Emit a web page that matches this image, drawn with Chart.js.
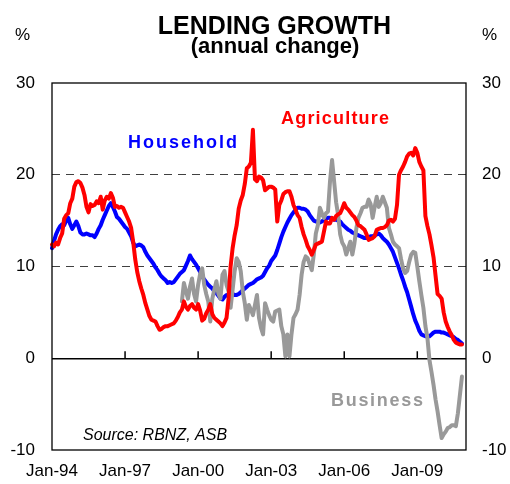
<!DOCTYPE html>
<html lang="en">
<head>
<meta charset="utf-8">
<title>Lending growth</title>
<style>
  body { margin: 0; background: #fff; }
  canvas { display: block; }
</style>
</head>
<body>
<canvas id="myChart" width="510" height="484"></canvas>
<script src="https://cdn.jsdelivr.net/npm/chart.js@4.4.0/dist/chart.umd.min.js"></script>
<script>
// monthly categories Jan-94 .. Jan-11
const monthNames = ['Jan','Feb','Mar','Apr','May','Jun','Jul','Aug','Sep','Oct','Nov','Dec'];
const labels = [];
for (let yr = 1994; yr <= 2011; yr++) {
  for (let m = 0; m < 12 && labels.length < 205; m++) {
    labels.push(monthNames[m] + '-' + String(yr).slice(2));
  }
}
const tickLabels = ['Jan-94', 'Jan-97', 'Jan-00', 'Jan-03', 'Jan-06', 'Jan-09'];
const yTicks = [-10, 0, 10, 20, 30];

// annual % change, one row per year (Jan..Dec)
const household = [
  12.0,12.8,13.5,14.0,14.4,14.6,14.5,15.0,15.3,14.6,14.1,14.5,
  14.9,14.4,13.7,13.5,13.5,13.6,13.5,13.4,13.4,13.2,13.6,14.1,
  14.5,15.1,15.6,16.1,16.6,16.9,16.5,16.0,15.4,15.2,14.9,14.6,
  14.3,14.1,13.7,13.3,12.6,12.2,12.3,12.4,12.3,12.1,11.6,11.2,
  10.9,10.6,10.3,9.9,9.6,9.2,8.9,8.7,8.5,8.2,8.3,8.2,
  8.3,8.6,8.9,9.2,9.4,9.6,10.1,10.6,11.2,10.8,10.5,10.2,
  9.8,9.4,8.9,8.6,8.3,8.0,7.8,7.6,7.3,7.1,6.8,6.5,
  6.4,6.7,6.9,6.8,6.9,7.0,6.9,6.9,7.0,7.2,7.4,7.6,
  7.8,8.0,8.1,8.2,8.4,8.6,8.7,8.8,9.0,9.4,9.8,10.1,
  10.6,10.9,11.2,11.8,12.5,13.2,13.8,14.3,14.8,15.2,15.6,15.9,
  16.2,16.4,16.4,16.3,16.3,16.2,16.0,15.6,15.3,15.0,14.9,14.9,
  14.8,14.9,15.1,15.2,15.3,15.3,15.2,15.1,15.1,15.0,14.9,14.6,
  14.4,14.2,14.0,13.9,13.7,13.6,13.5,13.4,13.3,13.2,13.1,13.1,
  13.2,13.3,13.3,13.4,13.5,13.6,13.4,13.1,12.9,12.7,12.4,12.0,
  11.6,11.0,10.4,9.8,9.1,8.5,7.8,7.2,6.4,5.6,4.8,4.1,
  3.6,3.0,2.6,2.5,2.4,2.4,2.4,2.6,2.8,2.9,2.9,2.9,
  2.8,2.8,2.7,2.6,2.5,2.4,2.3,2.1,2.0,1.8,1.6
];

const agriculture = [
  12.4,12.2,12.6,12.4,13.1,13.6,15.2,15.6,15.8,16.9,17.4,18.7,
  19.2,19.3,19.1,18.6,17.8,16.5,15.9,16.8,16.6,16.7,17.1,16.9,
  17.6,16.2,17.2,17.6,17.4,18.0,17.5,16.5,16.6,16.4,16.5,16.4,
  15.9,15.4,14.9,14.2,12.7,10.8,9.4,8.4,7.6,6.9,6.0,5.3,
  4.6,4.2,4.1,4.0,3.5,3.1,3.2,3.4,3.5,3.5,3.6,3.7,
  3.8,4.1,4.5,5.0,5.3,6.2,5.6,5.3,5.7,5.9,5.5,5.3,
  5.9,5.2,4.1,4.3,4.9,5.3,5.9,4.8,4.4,4.2,4.0,3.8,
  3.5,3.9,4.4,6.5,10.0,12.0,13.4,14.5,16.3,17.2,17.8,19.0,
  20.7,20.9,21.3,24.9,19.5,19.3,19.8,19.7,19.4,18.3,18.5,18.7,
  18.7,18.6,18.4,14.9,16.7,17.2,17.9,18.1,18.2,18.2,17.6,16.7,
  16.2,15.6,15.3,14.3,13.5,12.9,12.2,11.8,11.3,11.8,12.4,12.5,
  12.6,12.7,13.8,14.9,14.7,14.7,15.3,15.1,15.5,15.7,15.8,16.3,
  16.9,16.4,16.2,15.9,15.6,15.4,15.0,14.5,14.4,14.2,14.0,13.5,
  12.9,13.0,13.1,13.3,14.0,14.1,14.2,14.2,14.3,14.5,15.0,15.1,
  14.9,15.2,16.7,20.0,20.5,20.9,21.4,22.0,22.3,22.4,22.1,22.9,
  22.4,21.4,20.9,20.5,15.5,14.4,13.5,12.3,11.0,9.0,7.0,6.8,
  6.5,5.0,4.0,3.4,2.9,2.5,2.0,1.7,1.6,1.5,1.5
];

const business = [
  null,null,null,null,null,null,null,null,null,null,null,null,
  null,null,null,null,null,null,null,null,null,null,null,null,
  null,null,null,null,null,null,null,null,null,null,null,null,
  null,null,null,null,null,null,null,null,null,null,null,null,
  null,null,null,null,null,null,null,null,null,null,null,null,
  null,null,null,null,6.2,8.2,7.3,6.5,7.8,8.7,7.0,6.2,
  8.0,9.2,9.8,8.0,7.0,6.2,4.0,6.5,7.5,8.4,7.0,6.5,
  9.1,9.5,8.0,7.3,5.5,7.5,9.5,10.9,10.5,9.5,7.3,6.0,
  4.2,5.8,5.3,4.7,5.8,6.9,4.4,3.3,2.6,6.0,5.3,4.7,
  4.2,4.0,5.1,5.2,5.3,3.5,2.6,0.2,2.6,0.2,2.6,4.4,
  4.8,5.3,6.9,9.1,10.5,11.1,10.9,10.2,9.6,11.3,13.6,14.5,
  16.4,15.8,15.3,15.8,16.0,19.3,21.6,19.3,17.0,15.6,13.5,12.6,
  12.2,11.3,12.0,12.7,11.3,12.5,14.2,15.3,15.8,16.4,16.5,16.5,
  17.3,16.8,15.3,16.5,17.6,16.5,16.9,17.6,17.0,16.4,14.2,13.5,
  12.7,12.4,12.2,12.0,10.8,9.8,9.3,9.5,10.5,11.3,11.6,11.5,
  10.0,8.4,6.9,5.5,3.5,2.2,-0.2,-1.5,-2.9,-4.5,-5.8,-7.3,
  -8.7,-8.3,-8.0,-7.6,-7.5,-7.3,-7.3,-7.4,-6.0,-4.0,-2.0
];

const FONT = "'Liberation Sans', Arial, sans-serif";

// frame, x tick marks on the zero line, and all the text around the plot
const decorations = {
  id: 'decorations',
  afterDraw(chart) {
    const { ctx, chartArea: a, scales } = chart;
    ctx.save();
    ctx.strokeStyle = '#000';
    ctx.lineWidth = 1.3;
    ctx.strokeRect(a.left, a.top, a.right - a.left, a.bottom - a.top);

    const y0 = scales.y.getPixelForValue(0);
    ctx.lineWidth = 1.5;
    tickLabels.slice(1).forEach(l => {
      const x = scales.x.getPixelForValue(labels.indexOf(l));
      ctx.beginPath();
      ctx.moveTo(x, y0);
      ctx.lineTo(x, y0 - 7);
      ctx.stroke();
    });

    ctx.fillStyle = '#000';
    ctx.textAlign = 'center';
    ctx.textBaseline = 'alphabetic';
    ctx.font = 'bold 25px ' + FONT;
    ctx.fillText('LENDING GROWTH', 274.5, 34);
    ctx.font = 'bold 22px ' + FONT;
    ctx.fillText('(annual change)', 275, 53);

    ctx.textAlign = 'left';
    ctx.font = '17px ' + FONT;
    ctx.fillText('%', 15, 40);
    ctx.fillText('%', 482, 40);

    ctx.font = 'italic 16px ' + FONT;
    ctx.fillText('Source: RBNZ, ASB', 83, 440);

    ctx.font = 'bold 18px ' + FONT;
    ctx.letterSpacing = '2px';
    ctx.fillStyle = '#0000ff';
    ctx.fillText('Household', 128, 148);
    ctx.letterSpacing = '1.2px';
    ctx.fillStyle = '#ff0000';
    ctx.fillText('Agriculture', 281, 124);
    ctx.letterSpacing = '1.7px';
    ctx.fillStyle = '#999999';
    ctx.fillText('Business', 331, 406);
    ctx.restore();
  }
};

const tickFont = { family: FONT, size: 17 };

new Chart(document.getElementById('myChart'), {
  type: 'line',
  data: {
    labels: labels,
    datasets: [
      { label: 'Household', data: household, borderColor: '#0000ff', order: 3 },
      { label: 'Agriculture', data: agriculture, borderColor: '#ff0000', order: 1 },
      { label: 'Business', data: business, borderColor: '#999999', order: 2 }
    ]
  },
  options: {
    responsive: false,
    animation: false,
    layout: { padding: { top: 83 } },
    plugins: {
      legend: { display: false },
      tooltip: { enabled: false },
      title: { display: false }
    },
    elements: {
      point: { radius: 0 },
      line: { borderWidth: 4, tension: 0, borderJoinStyle: 'round', borderCapStyle: 'round', fill: false }
    },
    scales: {
      x: {
        type: 'category',
        offset: false,
        afterFit: s => { s.height = 34; },
        grid: { display: false, drawTicks: false },
        border: { display: false },
        ticks: {
          autoSkip: false,
          maxRotation: 0,
          padding: 11,
          color: '#000',
          font: tickFont,
          callback: (v, i) => tickLabels.includes(labels[i]) ? labels[i] : ''
        }
      },
      y: {
        position: 'left',
        min: -10,
        max: 30,
        afterFit: s => { s.width = 52; },
        afterBuildTicks: s => { s.ticks = yTicks.map(v => ({ value: v })); },
        ticks: { padding: 17, color: '#000', font: tickFont },
        grid: {
          drawTicks: false,
          color: c => (c.tick.value === 10 || c.tick.value === 20) ? '#404040' : 'transparent',
          lineWidth: 1
        },
        border: { display: false, dash: [8, 6] }
      },
      y2: {
        position: 'right',
        min: -10,
        max: 30,
        afterFit: s => { s.width = 44; },
        afterBuildTicks: s => { s.ticks = yTicks.map(v => ({ value: v })); },
        ticks: { padding: 16, color: '#000', font: tickFont },
        grid: {
          drawTicks: false,
          color: c => c.tick.value === 0 ? '#000' : 'transparent',
          lineWidth: 1.5
        },
        border: { display: false }
      }
    }
  },
  plugins: [decorations]
});
</script>
</body>
</html>
